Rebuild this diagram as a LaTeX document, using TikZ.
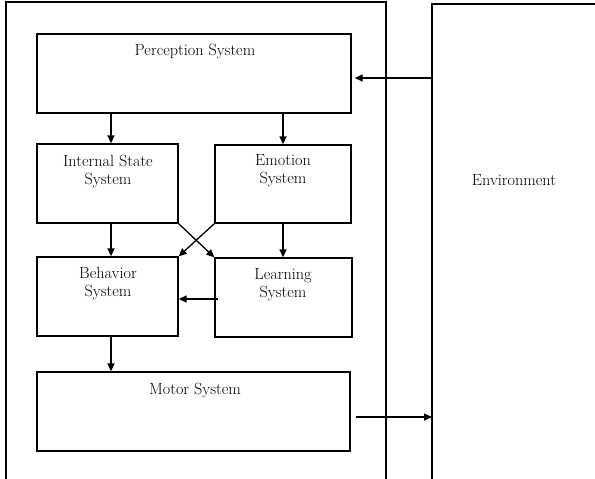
\documentclass[tikz,border=0pt]{standalone}
\usetikzlibrary{arrows.meta}
\begin{document}
\begin{tikzpicture}[x=1pt,y=-1pt,
  box/.style={draw,line width=1.3pt},
  lbl/.style={font=\fontsize{16.2}{18}\selectfont,align=center,inner sep=0pt},
  arr/.style={line width=1.3pt,-{Triangle[length=8pt,width=7pt]}}]
\useasboundingbox (0,0) rectangle (595,479);
\begin{scope}
\clip (0,0) rectangle (595,479);
\draw[line width=1.3pt] (6,490) -- (6,2) -- (386,2) -- (386,490);
\draw[line width=1.3pt] (432,490) -- (432,4) -- (600,4);
\end{scope}
\node[box,minimum width=314pt,minimum height=79pt,inner sep=0pt] (per) at (194,73.5) {};
\node[box,minimum width=141pt,minimum height=79pt,inner sep=0pt] (int) at (107.5,183.5) {};
\node[box,minimum width=136pt,minimum height=78pt,inner sep=0pt] (emo) at (283,184) {};
\node[box,minimum width=141pt,minimum height=79pt,inner sep=0pt] (beh) at (107.5,296.5) {};
\node[box,minimum width=137pt,minimum height=79pt,inner sep=0pt] (lea) at (283.5,297.5) {};
\node[box,minimum width=313pt,minimum height=79pt,inner sep=0pt] (mot) at (193.5,411.5) {};
\coordinate (env) at (432,78);
\coordinate (envb) at (432,417);

\node[lbl] (tper) at (195,51) {Perception System};
\node[lbl] (tint) at (108,171) {Internal State\\System};
\node[lbl] (temo) at (283,171) {Emotion\\System};
\node[lbl] (tbeh) at (108,284) {Behavior\\System};
\node[lbl] (tlea) at (283,285) {Learning\\System};
\node[lbl] (tmot) at (195,390) {Motor System};
\node[lbl] (tenv) at (514,180) {Environment};

\draw[arr] (per.south -| 111,0) -- (int.north -| 111,0);
\draw[arr] (per.south -| 283,0) -- (emo.north -| 283,0);
\draw[arr] (int.south -| 111,0) -- (beh.north -| 111,0);
\draw[arr] (emo.south -| 283,0) -- (lea.north -| 283,0);
\draw[arr] (int.south east) -- (lea.north west);
\draw[arr] (emo.south west) -- (beh.north east);
\draw[arr] ([xshift=4pt]lea.west |- 0,299) -- (beh.east |- 0,299);
\draw[arr] (beh.south -| 111,0) -- (mot.north -| 111,0);
\draw[arr] (env) -- ([xshift=3pt]per.east |- env);
\draw[arr] ([xshift=5pt]mot.east |- envb) -- (envb);
\end{tikzpicture}
\end{document}
